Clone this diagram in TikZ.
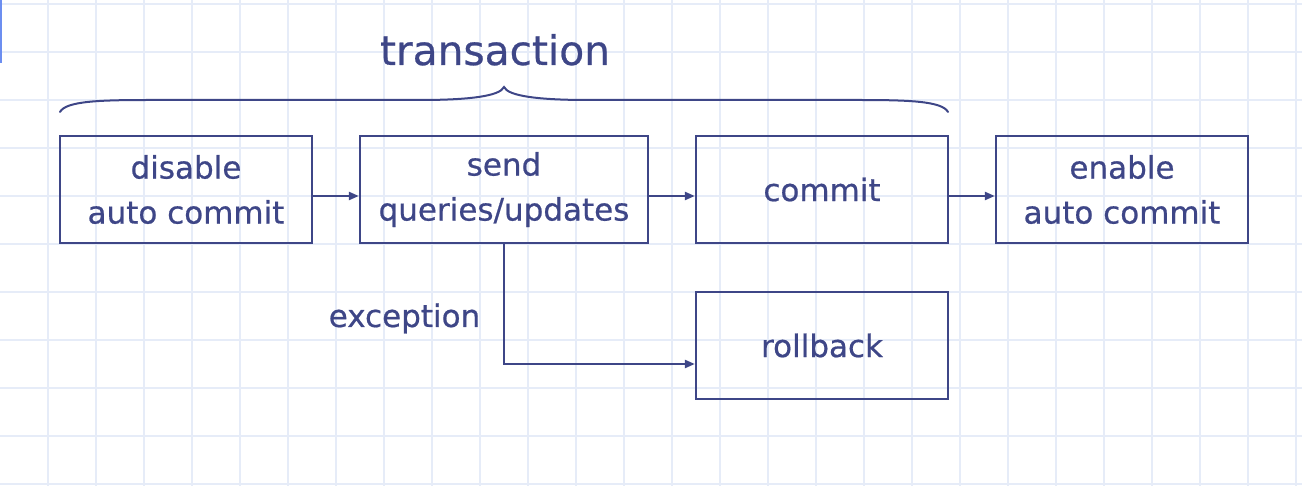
\documentclass[tikz,border=0pt]{standalone}
\usepackage{fontspec}
\setmainfont[FakeBold=0.6]{DejaVu Sans}
\usetikzlibrary{arrows.meta}

\definecolor{navy}{RGB}{62,70,135}
\definecolor{gridblue}{RGB}{230,236,248}
\definecolor{markblue}{RGB}{108,142,240}

\begin{document}
\begin{tikzpicture}[
        x=1pt, y=-1pt,
        every node/.style={font=\fontsize{31}{45}\selectfont, text=navy},
        stepbox/.style={draw=navy, line width=2.3pt, align=center, inner sep=0pt,
            minimum width=252pt, minimum height=107pt},
        flow/.style={draw=navy, line width=2.3pt, -{Triangle[length=10pt,width=8pt]}},
    ]
    \useasboundingbox (0,0) rectangle (1302,486);

    % Grid paper
    \foreach \gx in {48,96,...,1296}
        \draw[gridblue, line width=2pt] (\gx,0) -- (\gx,486);
    \foreach \gy in {4,52,...,484}
        \draw[gridblue, line width=2pt] (0,\gy) -- (1302,\gy);
    \fill[markblue] (0,0) rectangle (1.5,63);

    % Steps
    \node[stepbox] (disable) at (186,189.5) {disable\\auto commit};
    \node[stepbox, minimum width=288pt] (send) at (504,189.5) {send\\queries/updates};
    \node[stepbox] (commit) at (822,189.5) {commit};
    \node[stepbox] (enable) at (1122,189.5) {enable\\auto commit};
    \node[stepbox] (rollback) at (822,345.5) {rollback};

    % Normal path
    \draw[flow] ([yshift=-6.5pt]disable.east) -- ([yshift=-6.5pt]send.west);
    \draw[flow] ([yshift=-6.5pt]send.east) -- ([yshift=-6.5pt]commit.west);
    \draw[flow] ([yshift=-6.5pt]commit.east) -- ([yshift=-6.5pt]enable.west);

    % Failure path
    \draw[flow] (send.south) |- ([yshift=-18.5pt]rollback.west);
    \node[anchor=base] (exception) at (404.5,327) {exception};

    % Transaction brace
    \coordinate (bracestart) at (60,112);
    \coordinate (bracetip) at (504,87);
    \coordinate (braceend) at (948,112);
    \draw[navy, line width=2pt, line cap=round]
        (bracestart) .. controls (66,101) and (100,100) .. (150,100)
        -- (420,100) .. controls (470,100) and (500,96) .. (bracetip)
        .. controls (508,96) and (538,100) .. (588,100)
        -- (858,100) .. controls (908,100) and (942,101) .. (braceend);
    \node[anchor=base, font=\fontsize{40.7}{48}\selectfont] (transaction) at (495,65) {transaction};
\end{tikzpicture}
\end{document}
